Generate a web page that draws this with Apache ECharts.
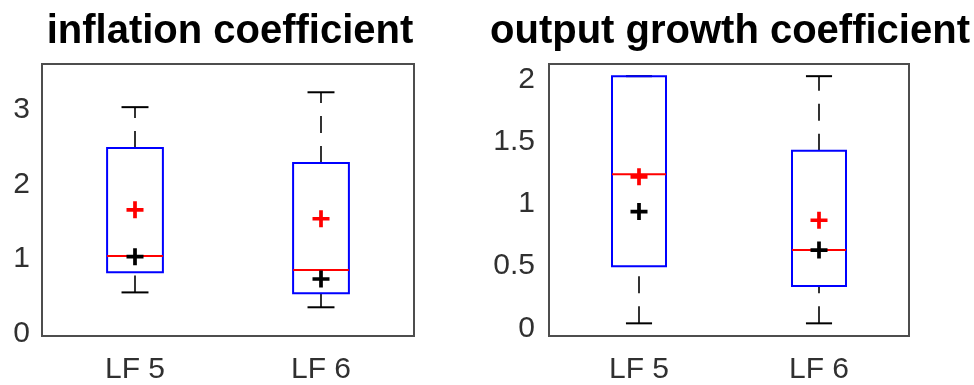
<!DOCTYPE html>
<html>
<head>
<meta charset="utf-8">
<style>
  html, body { margin: 0; padding: 0; background: #fff; }
  #chart { width: 974px; height: 385px; }
</style>
<script src="https://cdn.jsdelivr.net/npm/echarts@6/dist/echarts.min.js"></script>
</head>
<body>
<div id="chart"></div>
<script>
const categories = ['LF 5', 'LF 6'];

// inflation coefficient
const inflLow = [0.55, 0.35];
const inflQ1 = [0.82, 0.54];
const inflMedian = [1.04, 0.85];
const inflQ3 = [2.49, 2.29];
const inflHigh = [3.04, 3.24];
const inflRedPlus = [1.66, 1.54];
const inflBlackPlus = [1.03, 0.73];
const inflTicks = [0, 1, 2, 3];

// output growth coefficient
const outLow = [0.04, 0.04];
const outQ1 = [0.50, 0.34];
const outMedian = [1.24, 0.63];
const outQ3 = [2.03, 1.43];
const outHigh = [2.03, 2.03];
const outRedPlus = [1.22, 0.87];
const outBlackPlus = [0.94, 0.63];
const outTicks = [0, 0.5, 1, 1.5, 2];

const FONT = 'Liberation Sans, Arial, sans-serif';
const PLUS = 'path://M6.25,0H9.75V6.25H16V9.75H9.75V16H6.25V9.75H0V6.25H6.25Z';

function boxData(low, q1, med, q3, high) {
  return categories.map((c, i) => [i, low[i], q1[i], med[i], q3[i], high[i]]);
}

function renderBox(params, api) {
  const x = api.value(0);
  const pLow = api.coord([x, api.value(1)]);
  const pQ1 = api.coord([x, api.value(2)]);
  const pMed = api.coord([x, api.value(3)]);
  const pQ3 = api.coord([x, api.value(4)]);
  const pHigh = api.coord([x, api.value(5)]);
  const band = api.size([1, 0])[0];
  const bw = band * 0.30;
  const cw = band * 0.145;
  const cx = pMed[0];
  const dash = { stroke: '#000', lineWidth: 1.6, lineDash: [17, 13] };
  const solid = { stroke: '#000', lineWidth: 2 };
  return {
    type: 'group',
    children: [
      { type: 'line', shape: { x1: cx, y1: pLow[1], x2: cx, y2: pQ1[1] }, style: dash },
      { type: 'line', shape: { x1: cx, y1: pQ3[1], x2: cx, y2: pHigh[1] }, style: dash },
      { type: 'line', shape: { x1: cx - cw / 2, y1: pLow[1], x2: cx + cw / 2, y2: pLow[1] }, style: solid },
      { type: 'line', shape: { x1: cx - cw / 2, y1: pHigh[1], x2: cx + cw / 2, y2: pHigh[1] }, style: solid },
      { type: 'rect', shape: { x: cx - bw / 2, y: pQ3[1], width: bw, height: pQ1[1] - pQ3[1] },
        style: { fill: null, stroke: '#0000ff', lineWidth: 2 } },
      { type: 'line', shape: { x1: cx - bw / 2, y1: pMed[1], x2: cx + bw / 2, y2: pMed[1] },
        style: { stroke: '#ff0000', lineWidth: 2 } }
    ]
  };
}

function yAxisFor(idx, min, max, ticks, margin) {
  return {
    type: 'value', gridIndex: idx, min: min, max: max,
    axisLine: { show: false }, axisTick: { show: false }, splitLine: { show: false },
    axisLabel: { customValues: ticks, fontSize: 30, color: '#303030', fontFamily: FONT, margin: margin }
  };
}

function xAxisFor(idx) {
  return {
    type: 'category', gridIndex: idx, data: categories, boundaryGap: true,
    axisLine: { show: false }, axisTick: { show: false }, splitLine: { show: false },
    axisLabel: { fontSize: 30, color: '#303030', fontFamily: FONT, margin: 19 }
  };
}

function plusSeries(idx, values, color) {
  return {
    type: 'scatter', xAxisIndex: idx, yAxisIndex: idx, z: 5,
    symbol: PLUS, symbolSize: 17, itemStyle: { color: color, opacity: 1 },
    data: values.map((v, i) => [i, v])
  };
}

const chart = echarts.init(document.getElementById('chart'), null, { renderer: 'canvas' });

chart.setOption({
  animation: false,
  graphic: [
    { type: 'text', x: 230, y: 32,
      style: { text: 'inflation coefficient', font: 'bold 40px ' + FONT, fill: '#000', textAlign: 'center', textVerticalAlign: 'middle' } },
    { type: 'text', x: 730, y: 32,
      style: { text: 'output growth coefficient', font: 'bold 40px ' + FONT, fill: '#000', textAlign: 'center', textVerticalAlign: 'middle' } }
  ],
  grid: [
    { left: 42, top: 64, width: 372, height: 272, show: true, borderColor: '#4d4d4d', borderWidth: 2, backgroundColor: '#fff' },
    { left: 549, top: 64, width: 360, height: 272, show: true, borderColor: '#4d4d4d', borderWidth: 2, backgroundColor: '#fff' }
  ],
  xAxis: [xAxisFor(0), xAxisFor(1)],
  yAxis: [
    yAxisFor(0, -0.036, 3.62, inflTicks, 12),
    yAxisFor(1, -0.062, 2.128, outTicks, 14)
  ],
  series: [
    { type: 'custom', xAxisIndex: 0, yAxisIndex: 0, renderItem: renderBox,
      encode: { x: 0, y: [1, 2, 3, 4, 5] },
      data: boxData(inflLow, inflQ1, inflMedian, inflQ3, inflHigh) },
    { type: 'custom', xAxisIndex: 1, yAxisIndex: 1, renderItem: renderBox,
      encode: { x: 0, y: [1, 2, 3, 4, 5] },
      data: boxData(outLow, outQ1, outMedian, outQ3, outHigh) },
    plusSeries(0, inflRedPlus, '#ff0000'),
    plusSeries(0, inflBlackPlus, '#000000'),
    plusSeries(1, outRedPlus, '#ff0000'),
    plusSeries(1, outBlackPlus, '#000000')
  ]
});

window.addEventListener('resize', chart.resize);
</script>
</body>
</html>
